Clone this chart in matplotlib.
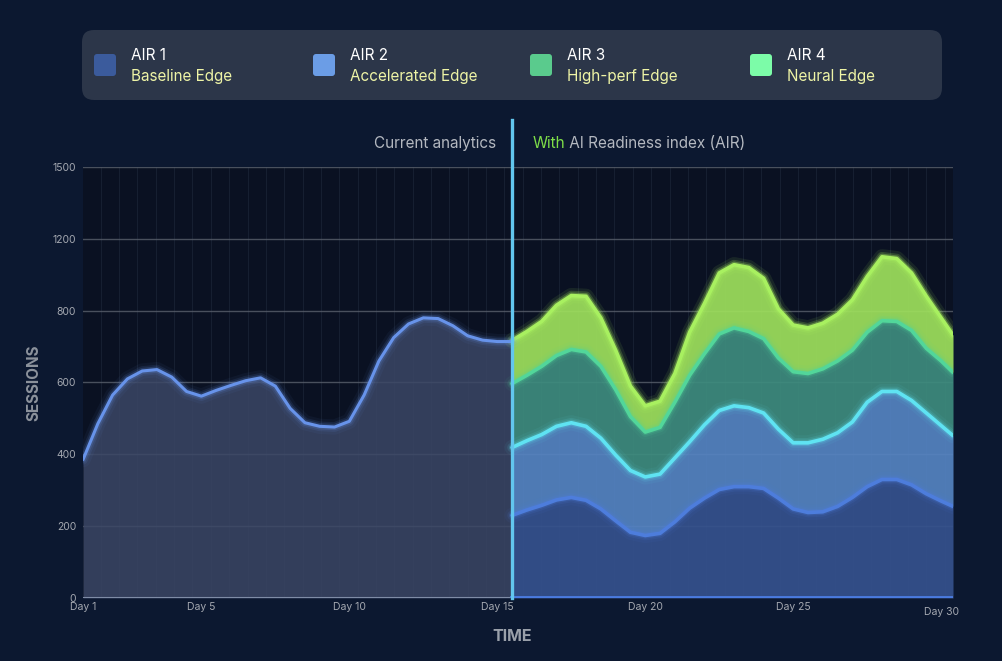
import numpy as np
import matplotlib.pyplot as plt
from matplotlib.patches import FancyBboxPatch

plt.rcParams['font.family'] = ['Inter', 'DejaVu Sans']

# ── Data ──────────────────────────────────────────────────────────────────
DAY_TICKS  = [1, 5, 10, 15, 20, 25, 30]
DAY_LABELS = [f"Day {d}" for d in DAY_TICKS]
Y_TICKS    = [0, 200, 400, 600, 800, 1000, 1200]
Y_LABELS   = ["0", "200", "400", "600", "800", "1200", "1500"]

SPLIT_DAY = 15.5

CUR_DAYS = np.arange(1, 16, 0.5)                     # day 1 .. 15.5
CURRENT  = [385, 485, 565, 610, 632, 636, 615, 575, 562, 578,
            592, 605, 613, 590, 528, 488, 478, 476, 492, 565,
            660, 725, 763, 780, 778, 758, 730, 718, 714, 714]

AIR_DAYS = list(np.arange(15.5, 30.5, 0.5)) + [30.4]  # day 15.5 .. 30.4
AIR1 = [230, 245, 258, 273, 280, 272, 248, 215, 183, 174,
        180, 212, 250, 278, 302, 310, 310, 305, 278, 248,
        238, 240, 255, 280, 310, 330, 330, 315, 290, 270, 255]
AIR2 = [189, 193, 197, 205, 208, 206, 197, 183, 172, 163,
        165, 178, 185, 204, 220, 225, 220, 210, 192, 184,
        194, 202, 205, 210, 235, 245, 245, 235, 225, 210, 197]
AIR3 = [178, 182, 190, 197, 204, 207, 200, 182, 150, 125,
        130, 155, 185, 198, 213, 217, 212, 207, 198, 198,
        193, 196, 200, 200, 195, 197, 195, 195, 180, 180, 176]
AIR4 = [120, 122, 125, 140, 150, 155, 135, 110, 85, 73,
        73, 80, 120, 140, 170, 176, 178, 168, 137, 130,
        127, 127, 130, 140, 155, 178, 175, 160, 145, 120, 104]

SERIES_NAMES = ["AIR 1", "AIR 2", "AIR 3", "AIR 4"]
SERIES_SUBS  = ["Baseline Edge", "Accelerated Edge", "High-perf Edge", "Neural Edge"]

# ── Style ─────────────────────────────────────────────────────────────────
BG        = "#0c1830"
PLOT_BG   = "#0a1122"
GRID      = "#5a606c"
TICK_TXT  = "#a4a8b0"
FILLS     = ["#35528e", "#5584c2", "#3e8c7e", "#9ee05c"]
LINES     = ["#4d7ddc", "#5fe3f2", "#52d69a", "#a8f060"]
SWATCHES  = ["#3b5b9c", "#6b9de6", "#5acb8d", "#7cfca8"]


def glow_line(ax, x, y, color, lw=2.4, strength=1.0, z=5):
    for w, a in [(11, 0.06), (7, 0.12), (4.5, 0.22)]:
        ax.plot(x, y, color=color, lw=w, alpha=a * strength,
                solid_capstyle="round", zorder=z)
    ax.plot(x, y, color=color, lw=lw, solid_capstyle="round", zorder=z + 0.1)


fig = plt.figure(figsize=(10.03, 6.61), dpi=100, facecolor=BG)
ax = fig.add_axes([83 / 1003, 63 / 661, 870 / 1003, 431 / 661])
ax.set_facecolor(PLOT_BG)
ax.set_xlim(1, 30.4)
ax.set_ylim(0, 1200)

# faint vertical lines + horizontal grid
for xv in np.arange(1.6, 30.4, 0.62):
    ax.axvline(xv, color="#161f31", lw=0.8, zorder=0.5)
for yv in Y_TICKS:
    ax.axhline(yv, color=GRID, lw=1.0, alpha=0.8, zorder=0.6)

# ── current analytics (left) ──────────────────────────────────────────────
ax.fill_between(CUR_DAYS, 0, CURRENT, color="#3b4766", alpha=0.85,
                lw=0, zorder=1)
glow_line(ax, CUR_DAYS, CURRENT, "#6793ea", lw=2.2, strength=0.9)

# ── stacked AIR layers (right) ────────────────────────────────────────────
layers = np.array([AIR1, AIR2, AIR3, AIR4], dtype=float)
tops = np.cumsum(layers, axis=0)
base = np.zeros(len(AIR_DAYS))
for i in range(4):
    ax.fill_between(AIR_DAYS, base, tops[i], color=FILLS[i], alpha=0.92,
                    lw=0, zorder=2 + i * 0.1)
    base = tops[i]
for i in range(4):
    glow_line(ax, AIR_DAYS, tops[i], LINES[i], lw=2.6,
              strength=1.6 if i == 3 else 1.0, z=4 + i * 0.2)

# baseline strips
ax.plot([1, SPLIT_DAY], [0, 0], color="#7f8ca6", lw=1.5, zorder=6)
ax.plot([SPLIT_DAY, 30.4], [0, 0], color="#4a7be0", lw=3.5, zorder=6)

# divider
ax.axvline(SPLIT_DAY, ymin=0, ymax=(598 - 120) / 431, color="#62c6ee",
           lw=2.4, clip_on=False, zorder=8)

# ── axes cosmetics ────────────────────────────────────────────────────────
for s in ax.spines.values():
    s.set_visible(False)
ax.set_yticks(Y_TICKS)
ax.set_yticklabels(Y_LABELS)
ax.set_xticks(DAY_TICKS)
ax.set_xticklabels(DAY_LABELS)
ax.tick_params(axis="y", length=0, pad=5, labelsize=7.5, labelcolor=TICK_TXT)
ax.tick_params(axis="x", length=0, pad=3, labelsize=7.5, labelcolor=TICK_TXT)
ax.get_xticklabels()[-1].set_y(-0.012)

ax.set_ylabel("SESSIONS", color="#8c929c", fontsize=11, fontweight="bold",
              labelpad=8)
ax.text(SPLIT_DAY, -0.09, "TIME", transform=ax.get_xaxis_transform(),
        ha="center", va="center", color="#9aa0aa", fontsize=11.5,
        fontweight="bold")

# header above the plot
ax.text(SPLIT_DAY - 0.55, 1.055, "Current analytics",
        transform=ax.get_xaxis_transform(), ha="right", va="center",
        color="#b4b8c0", fontsize=11)
t = ax.text(SPLIT_DAY + 0.68, 1.055, "With",
            transform=ax.get_xaxis_transform(), ha="left", va="center",
            color="#7ede48", fontsize=11)
ax.annotate(" AI Readiness index (AIR)", xycoords=t, xy=(1, 0.5),
            ha="left", va="center", color="#b4b8c0", fontsize=11)

# ── legend panel (pixel overlay) ──────────────────────────────────────────
ov = fig.add_axes([0, 0, 1, 1], facecolor="none")
ov.set_xlim(0, 1003)
ov.set_ylim(661, 0)
ov.axis("off")
ov.add_patch(FancyBboxPatch((82, 30), 860, 70,
                            boxstyle="round,pad=0,rounding_size=12",
                            fc="#2c3649", ec="none"))
legend_x = [94, 313, 530, 750]
for lx, name, sub, col in zip(legend_x, SERIES_NAMES, SERIES_SUBS, SWATCHES):
    ov.add_patch(FancyBboxPatch((lx, 54), 22, 22,
                                boxstyle="round,pad=0,rounding_size=3",
                                fc=col, ec="none"))
    ov.text(lx + 37, 56, name, color="white", fontsize=11, va="center")
    ov.text(lx + 37, 76, sub, color="#eef4a6", fontsize=11, va="center")

fig.savefig("out.png", dpi=100, facecolor=BG)
